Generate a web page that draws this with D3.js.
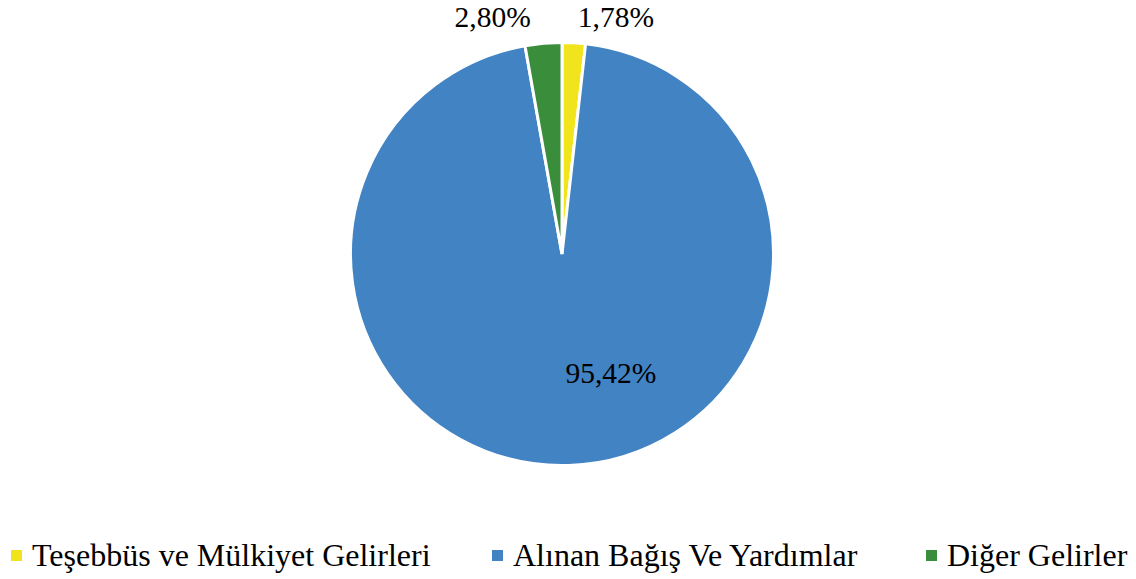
<!DOCTYPE html>
<html>
<head>
<meta charset="utf-8">
<script src="https://cdn.jsdelivr.net/npm/d3@7/dist/d3.min.js"></script>
<style>
  html, body { margin: 0; padding: 0; background: #fff; }
  svg { display: block; }
  .chart-text { font-family: "Liberation Serif", "Times New Roman", serif; }
</style>
</head>
<body>
<svg id="chart" width="1136" height="579"></svg>
<script>
// Revenue composition (percent of total)
const categories = ["Teşebbüs ve Mülkiyet Gelirleri", "Alınan Bağış Ve Yardımlar", "Diğer Gelirler"];
const values = [1.78, 95.42, 2.80];
const colors = ["#F2E41C", "#4183C3", "#3A8D3B"];
const valueLabels = ["1,78%", "95,42%", "2,80%"];

const width = 1136, height = 579;
const cx = 562, cy = 254, radius = 211.5;

function draw() {
  const svg = d3.select("#chart");
  svg.selectAll("*").remove();

  const pie = d3.pie().sort(null).value(d => d)(values);
  const arc = d3.arc().innerRadius(0).outerRadius(radius);

  const g = svg.append("g").attr("transform", `translate(${cx},${cy})`);

  g.selectAll("path.slice")
    .data(pie)
    .join("path")
    .attr("class", "slice")
    .attr("d", arc)
    .attr("fill", (d, i) => colors[i])
    .attr("stroke", "#fff")
    .attr("stroke-width", 3)
    .attr("stroke-linejoin", "miter");

  // Data labels: small slices get labels above the rim, the large one inside
  const outerArc = d3.arc().innerRadius(radius + 20).outerRadius(radius + 20);
  const innerArc = d3.arc().innerRadius(122).outerRadius(122);
  const labelShift = [[41, 0], [45, 7], [-49, 0]];

  g.selectAll("text.value")
    .data(pie)
    .join("text")
    .attr("class", "value chart-text")
    .attr("text-anchor", "middle")
    .style("font-size", "29.5px")
    .attr("fill", "#000")
    .attr("x", (d, i) => (i === 1 ? innerArc : outerArc).centroid(d)[0] + labelShift[i][0])
    .attr("y", (d, i) => {
      if (i === 1) return innerArc.centroid(d)[1] + labelShift[i][1];
      return -radius - 15.5;
    })
    .text((d, i) => valueLabels[i]);

  // Legend
  const legendX = [11, 492, 926];
  const legend = svg.append("g").attr("class", "legend");
  const items = legend.selectAll("g")
    .data(categories)
    .join("g")
    .attr("transform", (d, i) => `translate(${legendX[i]},566)`);

  items.append("rect")
    .attr("x", 0).attr("y", -16)
    .attr("width", 11).attr("height", 11)
    .attr("fill", (d, i) => colors[i]);

  items.append("text")
    .attr("class", "chart-text")
    .attr("x", 21)
    .attr("y", 0)
    .style("font-size", "32px")
    .attr("fill", "#000")
    .text(d => d);
}

draw();
if (document.fonts && document.fonts.load) {
  document.fonts.load('32px "Liberation Serif"').then(draw).catch(() => {});
}
</script>
</body>
</html>
